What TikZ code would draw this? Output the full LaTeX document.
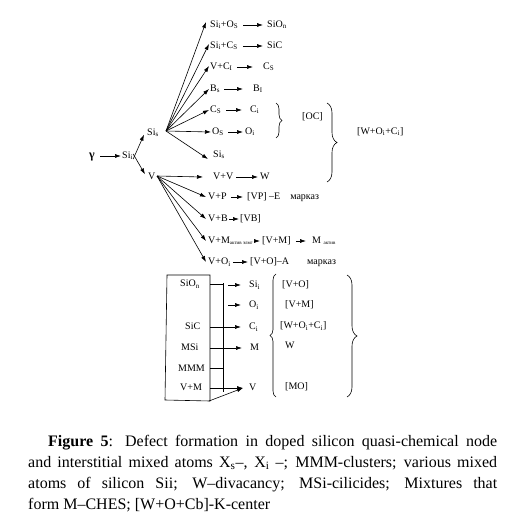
\documentclass[tikz,border=0pt]{standalone}
\usepackage{fontspec}
\setmainfont{Liberation Serif}
\usetikzlibrary{arrows.meta,decorations.pathreplacing}
\newcommand\sbs[1]{\textsubscript{#1}}
\begin{document}
\begin{tikzpicture}[x=1pt,y=-1pt,
  lbl/.style={inner sep=0pt,anchor=west,text height=7pt,text depth=2pt,font=\fontsize{10}{12}\selectfont},
  arr/.style={-{Latex[length=6pt,width=4pt]},line width=0.6pt},
  ln/.style={line width=0.6pt},
  brc/.style={decorate,line width=0.6pt},
  captxt/.style={inner sep=0pt,anchor=base west,font=\fontsize{16}{20}\selectfont}
]
\useasboundingbox[fill=white] (0,0) rectangle (507,518);

% left chain
\node[lbl,font=\fontsize{12}{14}\selectfont\bfseries] (g) at (89,156) {γ};
\node[lbl] (sii) at (122,156) {Si\sbs{i}};
\node[lbl] (sis) at (147,133) {Si\sbs{s}};
\node[lbl] (v) at (148,177) {V};
\draw[arr] ([xshift=5pt]g.east) -- ([xshift=-1pt]sii.west);
\draw[arr] ([xshift=0pt,yshift=-3pt]sii.east) -- ([xshift=-3pt,yshift=3pt]sis.south west);
\draw[arr] ([xshift=0pt,yshift=2pt]sii.east) -- ([xshift=-3pt,yshift=-2pt]v.north west);

\coordinate (fs) at (166,131);
\coordinate (fv) at (157,176);

% Si_s fan targets
\node[lbl] (r1) at (210,25) {Si\sbs{i}+O\sbs{S}};
\node[lbl] (r1b) at (267,25) {SiO\sbs{n}};
\node[lbl] (r2) at (210,46) {Si\sbs{i}+C\sbs{S}};
\node[lbl] (r2b) at (267,46) {SiC};
\node[lbl] (r3) at (210,67) {V+C\sbs{I}};
\node[lbl] (r3b) at (263,67) {C\sbs{S}};
\node[lbl] (r4) at (210,89) {B\sbs{s}};
\node[lbl] (r4b) at (253,89) {B\sbs{I}};
\node[lbl] (r5) at (210,110) {C\sbs{S}};
\node[lbl] (r5b) at (250,110) {C\sbs{i}};
\node[lbl] (r6) at (212,132) {O\sbs{S}};
\node[lbl] (r6b) at (245,132) {O\sbs{i}};
\node[lbl] (r7) at (213,155) {Si\sbs{s}};

\draw[arr] (fs) -- ([xshift=-4pt,yshift=3pt]r1.west);
\draw[arr] (fs) -- ([xshift=-1pt,yshift=2pt]r2.west);
\draw[arr] (fs) -- ([xshift=-1pt,yshift=1pt]r3.west);
\draw[arr] (fs) -- ([xshift=-1pt]r4.west);
\draw[arr] (fs) -- ([xshift=-1pt]r5.west);
\draw[arr] (fs) -- ([xshift=-1pt]r6.west);
\draw[arr] (fs) -- ([xshift=-5pt,yshift=-4pt]r7.west);

\draw[arr] ([xshift=5pt]r1.east) -- ([xshift=-4pt]r1b.west);
\draw[arr] ([xshift=5pt]r2.east) -- ([xshift=-4pt]r2b.west);
\draw[arr] ([xshift=4pt]r3.east) -- ([xshift=-10pt]r3b.west);
\draw[arr] ([xshift=4pt]r4.east) -- ([xshift=-10pt]r4b.west);
\draw[arr] ([xshift=5pt]r5.east) -- ([xshift=-8pt]r5b.west);
\draw[arr] ([xshift=4pt]r6.east) -- ([xshift=-2pt]r6b.west);

\draw[brc,decoration={brace,amplitude=6pt}] (276,103) -- (276,138);
\node[lbl] (oc) at (302,117) {[OC]};
\draw[brc,decoration={brace,amplitude=10pt}] (327,103) -- (327,182);
\node[lbl] (woc) at (357,132) {[W+O\sbs{i}+C\sbs{i}]};

% V fan targets
\node[lbl] (v1) at (213,177) {V+V};
\node[lbl] (v1b) at (260,177) {W};
\node[lbl] (v2) at (208,197) {V+P};
\node[lbl] (v2b) at (247,197) {[VP] –E\hspace{10pt}марказ};
\node[lbl] (v3) at (208,219) {V+B};
\node[lbl] (v3b) at (240,219) {[VB]};
\node[lbl] (v4) at (208,241) {V+M\raisebox{-1.5pt}{\fontsize{5}{6}\selectfont актив элмг}};
\node[lbl] (v4b) at (262,241) {[V+M]};
\node[lbl] (v4c) at (312,241) {M \raisebox{-1.5pt}{\fontsize{5}{6}\selectfont актив}};
\node[lbl] (v5) at (208,262) {V+O\sbs{i}};
\node[lbl] (v5b) at (250,262) {[V+O]–A\hspace{18pt}марказ};

\draw[arr] (fv) -- ([xshift=-10pt]v1.west);
\draw[arr] (fv) -- ([xshift=-2pt]v2.west);
\draw[arr] (fv) -- ([xshift=-2pt]v3.west);
\draw[arr] (fv) -- ([xshift=-2pt]v4.west);
\draw[arr] (fv) -- ([xshift=-2pt]v5.west);

\draw[arr] ([xshift=3pt]v1.east) -- ([xshift=-2pt]v1b.west);
\draw[arr] ([xshift=4pt]v2.east) -- ([xshift=-4pt]v2b.west);
\draw[arr] ([xshift=1pt]v3.east) -- ([xshift=-1pt]v3b.west);
\draw[arr] ([xshift=1pt]v4.east) -- ([xshift=-2pt]v4b.west);
\draw[arr] ([xshift=5pt]v4b.east) -- ([xshift=-6pt]v4c.west);
\draw[arr] ([xshift=2pt]v5.east) -- ([xshift=-2pt]v5b.west);

% bottom box
\draw[ln] (167,275) -- (210,275) -- (210,401) -- (165,400) -- cycle;
\coordinate (vt) at (223,283);
\coordinate (vb) at (223,392);
\draw[ln] (vt) -- (vb);
\node[lbl] (bsio) at (180,284) {SiO\sbs{n}};
\node[lbl] (bsic) at (185,327) {SiC};
\node[lbl] (bmsi) at (181,348) {MSi};
\node[lbl] (bmmm) at (178,369) {MMM};
\node[lbl] (bvm) at (180,388) {V+M};
\foreach \yy in {284,327,348,368,388} \draw[ln] (210,\yy) -- (223,\yy);

\node[lbl] (bsi) at (249,285) {Si\sbs{i}};
\node[lbl] (bo) at (249,305) {O\sbs{i}};
\node[lbl] (bc) at (249,327) {C\sbs{i}};
\node[lbl] (bm) at (250,348) {M};
\node[lbl] (bv) at (249,388) {V};
\draw[arr] ([xshift=-21pt]bsi.west) -- ([xshift=-8pt]bsi.west);
\draw[arr] ([xshift=-21pt]bo.west) -- ([xshift=-8pt]bo.west);
\draw[arr] ([xshift=-26pt]bc.west) -- ([xshift=-8pt]bc.west);
\draw[arr] ([xshift=-27pt]bm.west) -- ([xshift=-8pt]bm.west);
\draw[arr] ([xshift=-26pt]bv.west) -- ([xshift=-6pt]bv.west);
\coordinate (bxc) at (209,401);
\draw[arr] (bxc) -- ([xshift=-6pt]bv.west);

\draw[brc,decoration={brace,amplitude=6pt}] (276,397) -- (276,274);
\node[lbl] (m1) at (282,285) {[V+O]};
\node[lbl] (m2) at (285,305) {[V+M]};
\node[lbl] (m3) at (280,326) {[W+O\sbs{i}+C\sbs{i}]};
\node[lbl] (m4) at (285,346) {W};
\node[lbl] (m5) at (285,387) {[MO]};
\draw[brc,decoration={brace,amplitude=10pt}] (347,275) -- (347,397);

% caption
\node[captxt] (c1) at (48,446) {\makebox[449pt][s]{\textbf{Figure 5}: Defect formation in doped silicon quasi-chemical node}};
\node[captxt] (c2) at (28,467) {\makebox[469pt][s]{and interstitial mixed atoms X\sbs{s}–, X\sbs{i} –; MMM-clusters; various mixed}};
\node[captxt] (c3) at (28,488) {\makebox[469pt][s]{atoms of silicon Sii; W–divacancy; MSi-cilicides; Mixtures that}};
\node[captxt] (c4) at (28,509) {form M–CHES; [W+O+Cb]-K-center};
\end{tikzpicture}
\end{document}
